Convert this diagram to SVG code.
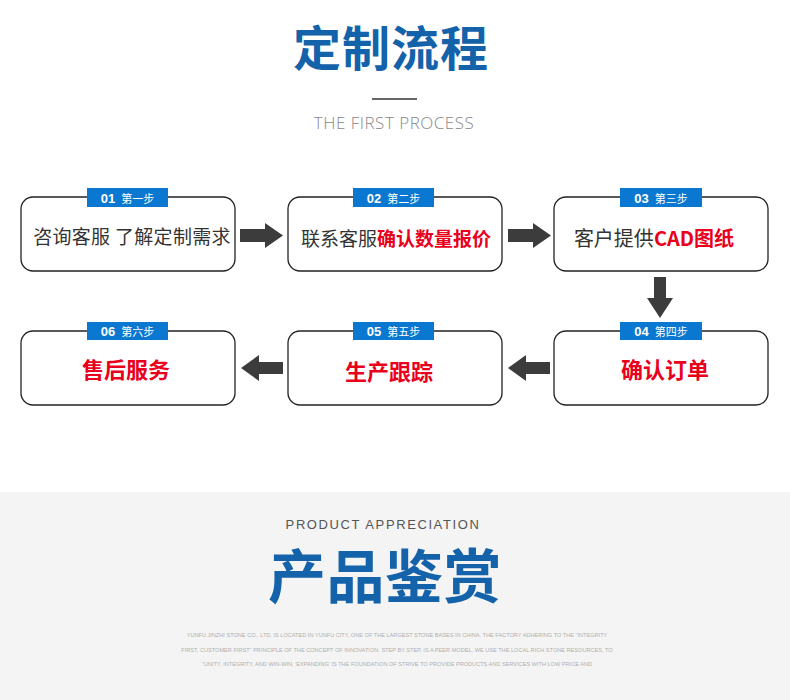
<svg xmlns="http://www.w3.org/2000/svg" width="790" height="700" viewBox="0 0 790 700">
<defs>
<style>
.cn{font-family:"Noto Sans CJK SC","Liberation Sans",sans-serif}
.box{fill:#fff;stroke:#222;stroke-width:1.3}
.tag{fill:#0a78d0}
.tagt{font-family:"Liberation Sans","Noto Sans CJK SC",sans-serif;font-size:13px;font-weight:bold;fill:#fff;text-anchor:middle}
.dark{fill:#333}
.red{fill:#e8001c;font-weight:bold}
.arr{fill:#3c3c3c}
.small{font-family:"Liberation Sans",sans-serif;font-size:5.6px;fill:#b0b0b0;text-anchor:middle}
</style>
</defs>
<rect width="790" height="700" fill="#fff"/>
<text x="391" y="66" class="cn" font-size="48" font-weight="bold" fill="#1463aa" text-anchor="middle" letter-spacing="1">定制流程</text>
<rect x="372" y="98" width="45" height="2" fill="#666"/>
<text x="394" y="129" font-family="Open Sans,Liberation Sans,sans-serif" font-weight="300" font-size="17" letter-spacing="0.5" fill="#888" text-anchor="middle">THE FIRST PROCESS</text>

<g id="step1">
<rect class="box" x="21" y="197" width="214" height="74" rx="12"/>
<rect class="tag" x="87" y="188" width="81" height="19"/>
<text class="tagt" x="127.5" y="202.5"><tspan>01</tspan><tspan dx="6" class="cn" font-weight="normal" font-size="11">第一步</tspan></text>
<text class="cn dark" x="132" y="244" font-size="19" text-anchor="middle" letter-spacing="0.3">咨询客服 了解定制需求</text>
</g>
<g id="step2">
<rect class="box" x="288" y="197" width="214" height="74" rx="12"/>
<rect class="tag" x="353" y="188" width="81" height="19"/>
<text class="tagt" x="393.5" y="202.5"><tspan>02</tspan><tspan dx="6" class="cn" font-weight="normal" font-size="11">第二步</tspan></text>
<text class="cn" x="396" y="246" font-size="19" text-anchor="middle"><tspan class="dark">联系客服</tspan><tspan class="red">确认数量报价</tspan></text>
</g>
<g id="step3">
<rect class="box" x="554" y="197" width="214" height="74" rx="12"/>
<rect class="tag" x="620" y="188" width="82" height="19"/>
<text class="tagt" x="661" y="202.5"><tspan>03</tspan><tspan dx="6" class="cn" font-weight="normal" font-size="11">第三步</tspan></text>
<text class="cn" x="654" y="246" font-size="20" text-anchor="middle"><tspan class="dark">客户提供</tspan><tspan class="red">CAD图纸</tspan></text>
</g>
<g id="step4">
<rect class="box" x="554" y="331" width="214" height="74" rx="12"/>
<rect class="tag" x="620" y="322" width="82" height="18"/>
<text class="tagt" x="661" y="336"><tspan>04</tspan><tspan dx="6" class="cn" font-weight="normal" font-size="11">第四步</tspan></text>
<text class="cn red" x="665" y="378" font-size="22" text-anchor="middle">确认订单</text>
</g>
<g id="step5">
<rect class="box" x="288" y="331" width="214" height="74" rx="12"/>
<rect class="tag" x="353" y="322" width="81" height="18"/>
<text class="tagt" x="393.5" y="336"><tspan>05</tspan><tspan dx="6" class="cn" font-weight="normal" font-size="11">第五步</tspan></text>
<text class="cn red" x="389" y="380" font-size="22" text-anchor="middle">生产跟踪</text>
</g>
<g id="step6">
<rect class="box" x="21" y="331" width="214" height="74" rx="12"/>
<rect class="tag" x="87" y="322" width="81" height="18"/>
<text class="tagt" x="127.5" y="336"><tspan>06</tspan><tspan dx="6" class="cn" font-weight="normal" font-size="11">第六步</tspan></text>
<text class="cn red" x="126" y="378" font-size="22" text-anchor="middle">售后服务</text>
</g>

<g id="connectors">
<polygon class="arr" points="240,229 265,229 265,223 283,235.5 265,248 265,242 240,242"/>
<polygon class="arr" points="508,229 533,229 533,223 551,235.5 533,248 533,242 508,242"/>
<polygon class="arr" points="654,277 666,277 666,298 673,298 660,318 647,298 654,298"/>
<polygon class="arr" points="550,362 526,362 526,355 508,368 526,381 526,374 550,374"/>
<polygon class="arr" points="283,362 259,362 259,355 241,368 259,381 259,374 283,374"/>
</g>

<rect x="0" y="492" width="790" height="208" fill="#f4f4f4"/>
<text x="383" y="529" font-family="Liberation Sans,sans-serif" font-size="13" letter-spacing="1.6" fill="#555" text-anchor="middle">PRODUCT APPRECIATION</text>
<text x="385" y="598" class="cn" font-size="58" font-weight="bold" fill="#1463aa" text-anchor="middle" letter-spacing="0.5">产品鉴赏</text>
<text class="small" x="397" y="637">YUNFU JINZHI STONE CO., LTD. IS LOCATED IN YUNFU CITY, ONE OF THE LARGEST STONE BASES IN CHINA. THE FACTORY ADHERING TO THE "INTEGRITY</text>
<text class="small" x="397" y="652">FIRST, CUSTOMER FIRST" PRINCIPLE OF  THE CONCEPT OF INNOVATION, STEP BY STEP, IS A PEER MODEL, WE USE THE LOCAL RICH STONE RESOURCES, TO</text>
<text class="small" x="397" y="666">"UNITY, INTEGRITY, AND WIN-WIN, 'EXPANDING' IS THE FOUNDATION OF STRIVE TO PROVIDE PRODUCTS AND SERVICES WITH LOW PRICE AND</text>
</svg>
